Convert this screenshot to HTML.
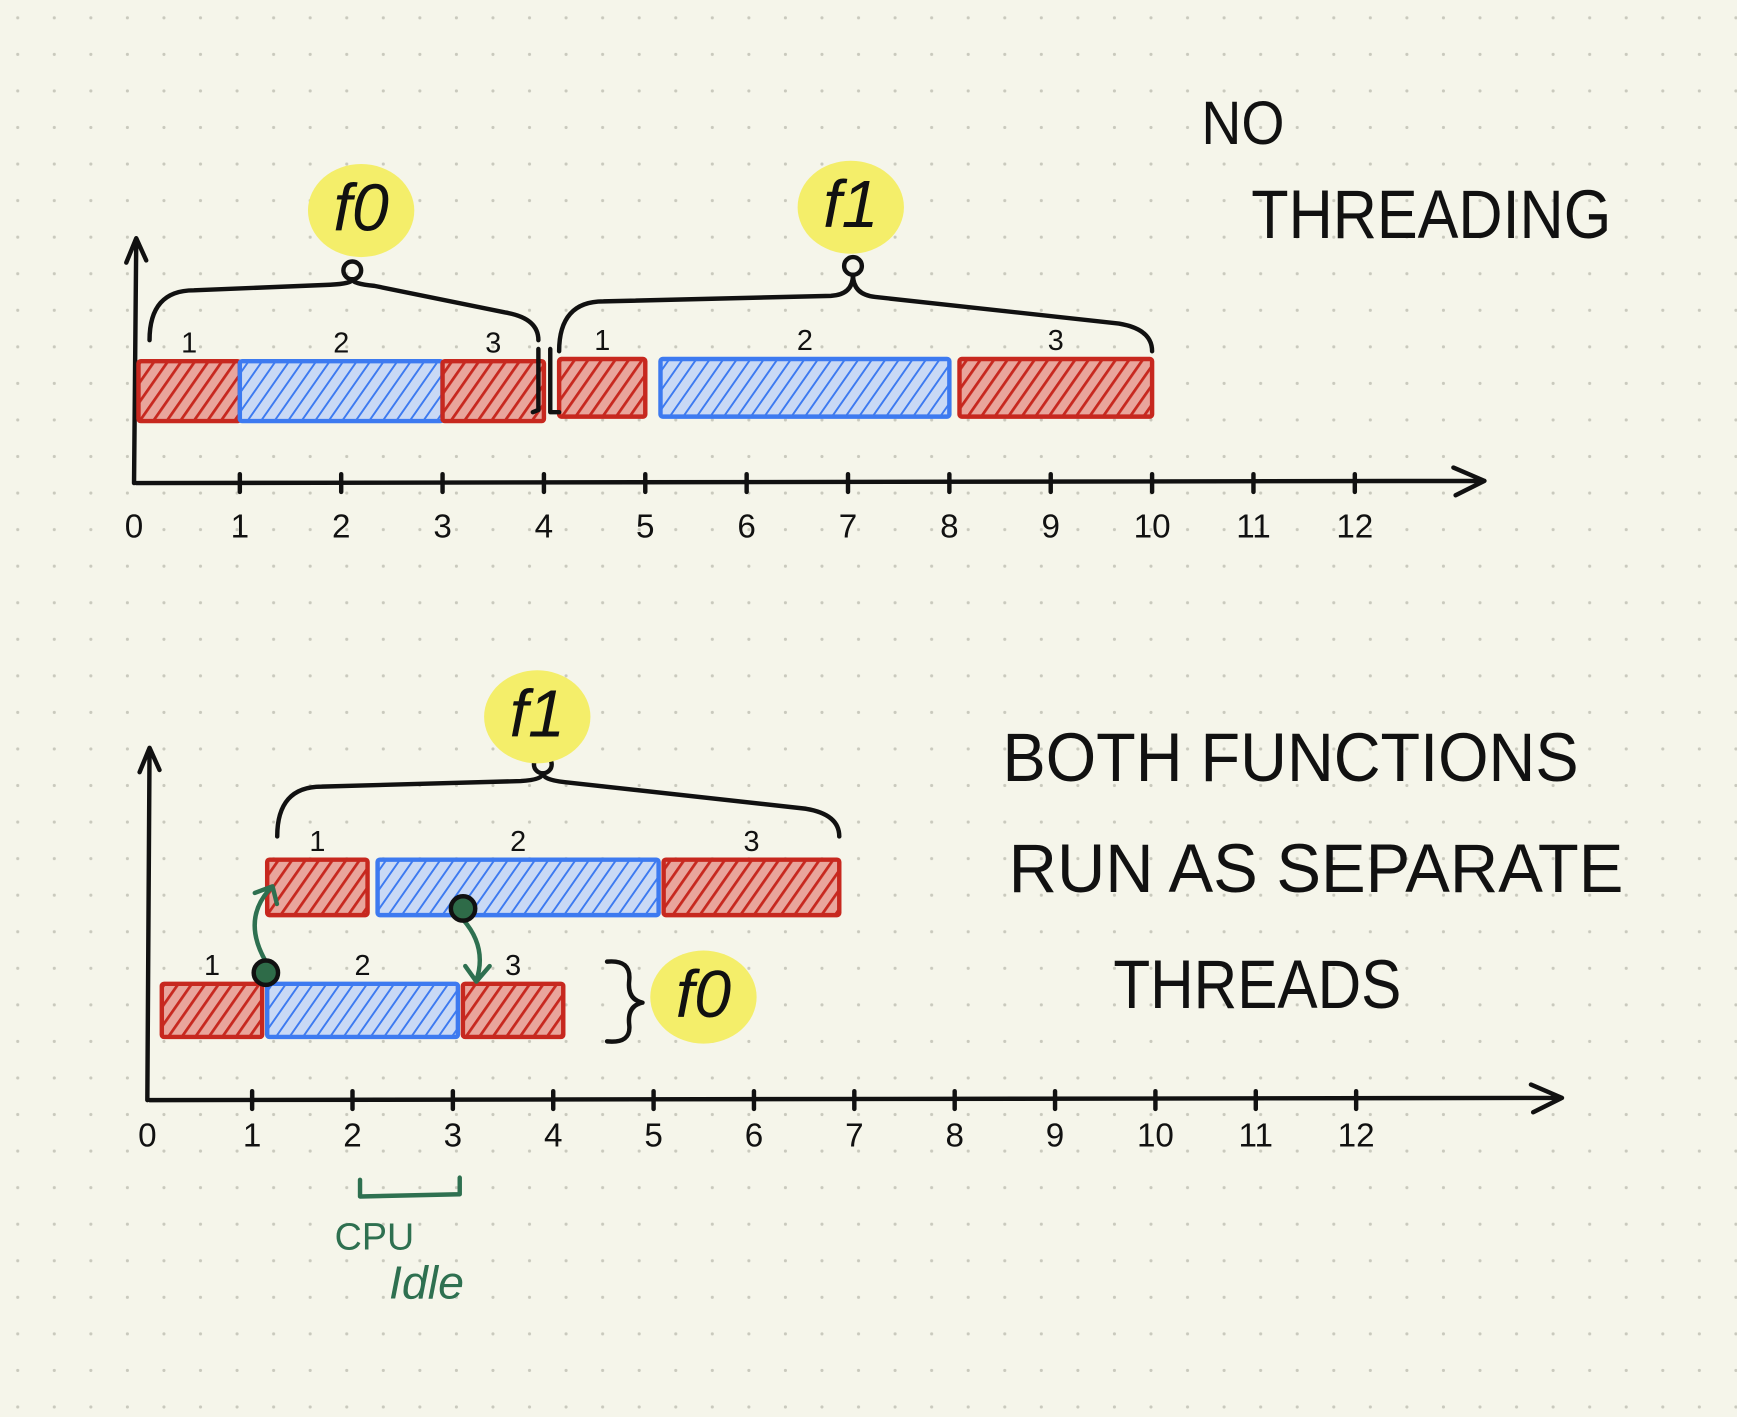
<!DOCTYPE html>
<html><head><meta charset="utf-8"><style>
html,body{margin:0;padding:0;background:#f5f5ea;}
svg{display:block;font-family:"Liberation Sans",sans-serif;}
</style></head><body>
<svg width="1737" height="1417" viewBox="0 0 1568 1279" xmlns="http://www.w3.org/2000/svg">
<defs>
<pattern id="dots" width="33" height="33" patternUnits="userSpaceOnUse"><circle cx="16" cy="16" r="1.4" fill="#c9c9bd"/></pattern>
<pattern id="hr" width="10" height="10" patternUnits="userSpaceOnUse" patternTransform="rotate(35)"><rect width="10" height="10" fill="#e9a59c"/><line x1="0" y1="0" x2="0" y2="10" stroke="#c7281f" stroke-width="5"/></pattern>
<pattern id="hb" width="10" height="10" patternUnits="userSpaceOnUse" patternTransform="rotate(35)"><rect width="10" height="10" fill="#c9d9f5"/><line x1="0" y1="0" x2="0" y2="10" stroke="#3d7af0" stroke-width="3.5"/></pattern>
</defs>
<rect width="1568" height="1279" fill="#f5f5ea"/>
<rect width="1568" height="1279" fill="url(#dots)"/>
<g id="chart" stroke-linecap="round" stroke-linejoin="round"></g>
</svg>
<script>
const ticks=[0,1,2,3,4,5,6,7,8,9,10,11,12];
const topF0=[[0,1],[1,3],[3,4]];
const topF1=[[4.15,5],[5.15,8],[8.1,10]];
const botF0=[[0.1,1.1],[1.15,3.05],[3.1,4.1]];
const botF1=[[1.15,2.15],[2.25,5.05],[5.1,6.85]];
const segLabels=["1","2","3"];
const colors=["r","b","r"];
const NS="http://www.w3.org/2000/svg";
const g=document.getElementById('chart');
function mk(t,a,txt){const e=document.createElementNS(NS,t);for(const k in a)e.setAttribute(k,a[k]);if(txt!==undefined)e.textContent=txt;g.appendChild(e);return e;}
function xTop(v){return 125+v*91.5;}
function xBot(v){return 137+v*90.6;}
function axis(name,x0,y,x1,yTop,sx,lblY){
  const a=mk('path',{d:`M${x0} ${y} L${x1} ${y-2} M${x1-28} ${y-14} L${x1} ${y-2} L${x1-26} ${y+11} M${x0-2} ${y} L${x0} ${yTop} M${x0-9} ${yTop+22} L${x0} ${yTop} L${x0+9} ${yTop+20}`,fill:'none',stroke:'#111',"stroke-width":4});
  
  ticks.forEach(t=>{const x=sx(t);
    if(t>0){const l=mk('line',{x1:x,y1:y-8,x2:x,y2:y+8,stroke:'#111',"stroke-width":4});
    }
    const tx=mk('text',{x:x-(t==0?4:0),y:lblY,"font-size":30,"text-anchor":"middle",fill:'#111'},String(t));
    });
}
function bars(name,segs,sx,y0,h){
  segs.forEach((s,i)=>{const x=sx(s[0]),w=sx(s[1])-sx(s[0]);
    const r=mk('rect',{x:x,y:y0,width:w,height:h,fill:colors[i]=='r'?'url(#hr)':'url(#hb)',stroke:colors[i]=='r'?'#c7281f':'#3d7af0',"stroke-width":4,rx:2});
    
    const t=mk('text',{x:x+w/2,y:y0-8,"font-size":26,"text-anchor":"middle",fill:'#111'},segLabels[i]);
    });
}
function brace(name,x0,x1,xp,yb,yp){
  const p=mk('path',{d:`M${x0} ${yb+45} Q${x0} ${yb} ${x0+40} ${yb} L${xp-20} ${yb-5} Q${xp} ${yb-6} ${xp} ${yp+8} Q${xp} ${yb-6} ${xp+20} ${yb-4} L${x1-30} ${yb+20} Q${x1} ${yb+25} ${x1} ${yb+45}`,fill:'none',stroke:'#111',"stroke-width":4});
  
  const c=mk('circle',{cx:xp,cy:yp,r:8,fill:'none',stroke:'#111',"stroke-width":4});
  
}
function label(name,x,y,txt){
  const b=mk('ellipse',{cx:x,cy:y-18,rx:48,ry:42,fill:'#f4ee6a'});
  
  const t=mk('text',{x:x,y:y,"font-size":60,"text-anchor":"middle",fill:'#111',"font-style":"italic"},txt);
  
}
axis('top',123,436,1340,215,xTop,485);
bars('top-f0',topF0,xTop,326,54);
bars('top-f1',topF1,xTop,324,52);
brace('top-f0-brace',xTop(0)+10,xTop(4)-5,318,262,244);
brace('top-f1-brace',xTop(4.15),xTop(10),770,272,240);
label('top-f0-label',326,208,'f0');
label('top-f1-label',768,205,'f1');
let s=mk('path',{d:`M${xTop(4)-5} 315 L${xTop(4)-5} 370 L${xTop(4)-10} 372 M${xTop(4.15)-8} 315 L${xTop(4.15)-8} 372 L${xTop(4.15)} 372`,fill:'none',stroke:'#111',"stroke-width":4});

axis('bottom',135,993,1410,675,xBot,1035);
bars('bottom-f0',botF0,xBot,888,48);
bars('bottom-f1',botF1,xBot,776,50);
brace('bottom-f1-brace',xBot(1.25),xBot(6.85),490,710,690);
label('bottom-f1-label',485,665,'f1');
label('bottom-f0-label',635,918,'f0');
s=mk('path',{d:'M548 868 Q570 866 568 885 Q566 902 580 905 Q566 908 568 925 Q570 942 548 940',fill:'none',stroke:'#111',"stroke-width":4});

s=mk('path',{d:'M240 868 Q218 830 244 802 M230 806 L246 800 L250 816 M418 830 Q440 855 430 885 M420 872 L430 886 L442 872',fill:'none',stroke:'#2e7050',"stroke-width":4});

[[240,878],[418,820]].forEach(c=>{const e=mk('circle',{cx:c[0],cy:c[1],r:11,fill:'#2e6b48',stroke:'#111',"stroke-width":4});
});
s=mk('path',{d:'M325 1065 L325 1080 L415 1078 L415 1063',fill:'none',stroke:'#2e7050',"stroke-width":4});

s=mk('text',{x:338,y:1128,"font-size":34,fill:'#2e7050',"text-anchor":"middle"},'CPU');

s=mk('text',{x:385,y:1172,"font-size":42,fill:'#2e7050',"text-anchor":"middle","font-style":"italic"},'Idle');

[['no-threading-title-1',1122,130,'NO',55,75],['no-threading-title-2',1292,215,'THREADING',62,325],
 ['both-functions-title-1',1165,705,'BOTH  FUNCTIONS',62,520],['both-functions-title-2',1188,805,'RUN  AS  SEPARATE',62,555],['both-functions-title-3',1135,910,'THREADS',62,260]].forEach(a=>{
 const t=mk('text',{x:a[1],y:a[2],"font-size":a[4],"text-anchor":"middle",fill:'#111',"textLength":a[5],"lengthAdjust":"spacingAndGlyphs"},a[3]);
 });
</script>
</body></html>
